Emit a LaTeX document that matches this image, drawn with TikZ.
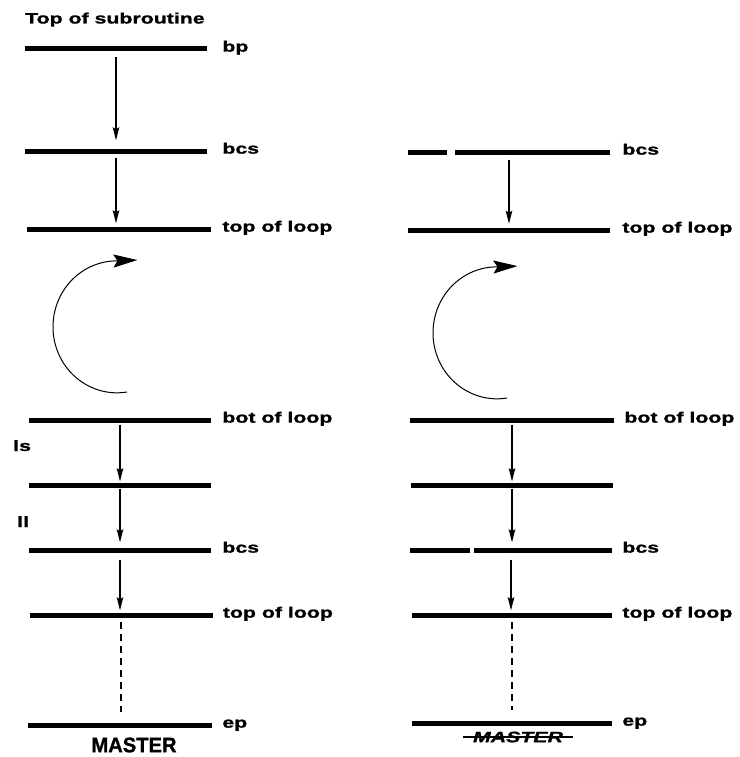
\documentclass[tikz,border=0pt]{standalone}
\usepackage{fontspec}
\setmainfont{Liberation Sans}[FakeStretch=1.42, FakeBold=1.2]
\newfontfamily\capfont{Liberation Sans}[FakeStretch=0.96, FakeBold=1.2]
\usetikzlibrary{arrows.meta, positioning}

\begin{document}
\begin{tikzpicture}[
  x=1pt, y=-1pt,
  font=\fontsize{15}{18}\selectfont\bfseries,
  bar/.style={
    rectangle, fill=black, inner sep=0pt,
    minimum height=5pt, minimum width=#1
  },
  bar/.default=182pt,
  gapbar/.style={
    rectangle, inner sep=0pt,
    minimum height=5pt, minimum width=#1
  },
  barline/.style={line width=5pt},
  lbl/.style={inner sep=0pt, anchor=mid west},
  lnk/.style={-{Stealth[length=13pt, width=6.5pt, inset=2pt]}, line width=1.5pt,
    shorten <=3pt, shorten >=3pt},
  dashlnk/.style={line width=1.8pt, dash pattern=on 7pt off 5pt,
    shorten <=4.5pt, shorten >=10pt},
  turn/.style={-{Stealth[length=24pt, width=13pt, inset=4pt]}, line width=1pt}
]
\useasboundingbox (0,0) rectangle (739,757);

% left column
\node[inner sep=0pt, anchor=base west] (tos) at (25,23.5) {Top of subroutine};
\node[bar] (bp)   at (116,49) {};
\node[bar] (bcsA) at (116,151) {};
\node[bar=184pt] (topA) at (119,229) {};
\node[bar] (botA) at (120,420) {};
\node[bar] (lsA)  at (120,485) {};
\node[bar] (bcsB) at (120,550) {};
\node[bar=183pt] (topB) at (121,615) {};
\node[bar=184pt] (epA)  at (120,725) {};

\node[right=15pt of bp, lbl]   (bpT)   {bp};
\node[right=15pt of bcsA, lbl] (bcsAT) {bcs};
\node[right=11pt of topA, lbl] (topAT) {top of loop};
\node[right=11pt of botA, lbl] (botAT) {bot of loop};
\node[right=11pt of bcsB, lbl] (bcsBT) {bcs};
\node[right=10pt of topB, lbl] (topBT) {top of loop};
\node[right=10pt of epA, lbl]  (epAT)  {ep};
\node[inner sep=0pt, anchor=base west] (lsT) at (13,451) {ls};
\node[inner sep=0pt, anchor=base west] (llT) at (17,527) {ll};
\node (mstA) at (134,745) {\capfont\fontsize{21}{24}\selectfont MASTER};

\draw[lnk, shorten <=5pt, shorten >=8pt] (bp.south) -- (bp.south |- bcsA.north);
\draw[lnk, shorten <=4.5pt] (bcsA.south) -- (bcsA.south |- topA.north);
\coordinate (turnA) at (127,392);
\draw[turn] (turnA) arc[start angle=-81, end angle=-265, x radius=64pt, y radius=66pt]
  -- ++(26,-1);
\draw[lnk, shorten <=2pt, shorten >=1pt] (botA.south) -- (lsA.north);
\draw[lnk, shorten <=1pt, shorten >=5pt] (lsA.south) -- (bcsB.north);
\draw[lnk, shorten <=7pt, shorten >=2pt] (bcsB.south) -- (bcsB.south |- topB.north);
\draw[dashlnk] (topB.south) -- (topB.south |- epA.north);

% right column
\node[gapbar=202pt] (bcsC) at (509,152) {};
\node[bar=202pt] (topC) at (509,230) {};
\node[bar=204pt] (botC) at (512,420) {};
\node[bar=202pt] (lsC)  at (512,485) {};
\node[gapbar=202pt] (bcsD) at (511,550) {};
\node[bar=200pt] (topD) at (512,615) {};
\node[bar=200pt] (epC)  at (512,723) {};
\draw[barline, dash pattern=on 39pt off 8pt on 200pt] (bcsC.west) -- (bcsC.east);
\draw[barline, dash pattern=on 60pt off 4pt on 200pt] (bcsD.west) -- (bcsD.east);

\node[right=12pt of bcsC, lbl] (bcsCT) {bcs};
\node[right=12pt of topC, lbl] (topCT) {top of loop};
\node[right=10pt of botC, lbl] (botCT) {bot of loop};
\node[right=10pt of bcsD, lbl] (bcsDT) {bcs};
\node[right=10pt of topD, lbl] (topDT) {top of loop};
\node[right=10pt of epC, lbl]  (epCT)  {ep};
\node[inner xsep=10pt, inner ysep=0pt] (mstC) at (518,737) {\itshape MASTER};
\draw[line width=1.4pt] (mstC.west) -- (mstC.east);

\draw[lnk, shorten <=5pt, shorten >=3.5pt] (bcsC.south) -- (bcsC.south |- topC.north);
\coordinate (turnC) at (507,398);
\draw[turn] (turnC) arc[start angle=-81, end angle=-265, x radius=64pt, y radius=66pt]
  -- ++(26,-1);
\draw[lnk, shorten <=2pt, shorten >=1pt] (botC.south) -- (lsC.north);
\draw[lnk, shorten <=1pt, shorten >=5pt] (lsC.south) -- (lsC.south |- bcsD.north);
\draw[lnk, shorten <=7pt, shorten >=2pt] (bcsD.south) -- (bcsD.south |- topD.north);
\draw[dashlnk] (topD.south) -- (topD.south |- epC.north);
\end{tikzpicture}
\end{document}
